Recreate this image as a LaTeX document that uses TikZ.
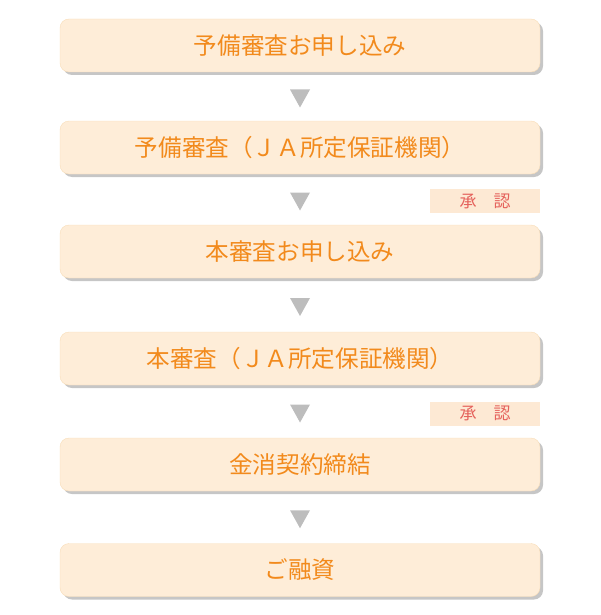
\documentclass[tikz,border=0pt]{standalone}
\usepackage{fontspec}
\usepackage{tikz}
\usetikzlibrary{shadows}
\newfontfamily\jpfont{Noto Sans CJK JP}
\definecolor{BoxFill}{HTML}{FEEDD8}
\definecolor{BoxLine}{HTML}{F8DDB8}
\definecolor{StepText}{HTML}{F28A1C}
\definecolor{OkFill}{HTML}{FDE9D4}
\definecolor{OkText}{HTML}{E5625C}
\definecolor{TriGray}{HTML}{BDBDBD}
\definecolor{ShadowGray}{HTML}{C6C6C6}

\begin{document}
\begin{tikzpicture}
      \begin{scope}[x={(1pt,0pt)},y={(0pt,-1pt)},
        stepbox/.style={rectangle,rounded corners=9pt,fill=BoxFill,draw=BoxLine,
          line width=.4pt,minimum width=480pt,minimum height=53pt,inner sep=0pt,
          drop shadow={shadow xshift=3pt,shadow yshift=-3pt,fill=ShadowGray,opacity=1},
          text=StepText,font=\jpfont\fontsize{23.6}{23.6}\selectfont},
        okbox/.style={rectangle,fill=OkFill,minimum width=110pt,minimum height=24pt,
          inner sep=0pt,text=OkText,font=\jpfont\fontsize{17}{17}\selectfont},
        tri/.style={fill=TriGray}]
        % \draw[help lines,step=10] (0,0) grid (600,615);
        \useasboundingbox (0,0) rectangle (600,615);
        \node[stepbox] (S_1) at (300,45.5) {予備審査お申し込み};
        \node[stepbox] (S_2) at (300,147.5) {予備審査（ＪＡ所定保証機関）};
        \node[stepbox] (S_3) at (300,251.5) {本審査お申し込み};
        \node[stepbox] (S_4) at (300,358.5) {本審査（ＪＡ所定保証機関）};
        \node[stepbox] (S_5) at (300,464.5) {金消契約締結};
        \node[stepbox] (S_6) at (300,570) {ご融資};

        \node[okbox] (OK_2) at (485,201) {承　認};
        \node[okbox] (OK_4) at (485,413.5) {承　認};

        % down triangles between the steps
        \path (S_1.south) -- (S_2.north) coordinate[midway] (T_1);
        \path (S_2.south) -- (S_3.north) coordinate[midway] (T_2);
        \path (S_3.south) -- (S_4.north) coordinate[midway] (T_3);
        \path (S_4.south) -- (S_5.north) coordinate[midway] (T_4);
        \path (S_5.south) -- (S_6.north) coordinate[midway] (T_5);
        \fill[tri] (T_1) ++(-10,-7) -- ++(20,0) -- ++(-10,18) -- cycle;
        \fill[tri] (T_2) ++(-10,-7) -- ++(20,0) -- ++(-10,18) -- cycle;
        \fill[tri] (T_3) ++(-10,-7) -- ++(20,0) -- ++(-10,18) -- cycle;
        \fill[tri] (T_4) ++(-10,-7) -- ++(20,0) -- ++(-10,18) -- cycle;
        \fill[tri] (T_5) ++(-10,-7) -- ++(20,0) -- ++(-10,18) -- cycle;

      \end{scope}
    \end{tikzpicture}
\end{document}
